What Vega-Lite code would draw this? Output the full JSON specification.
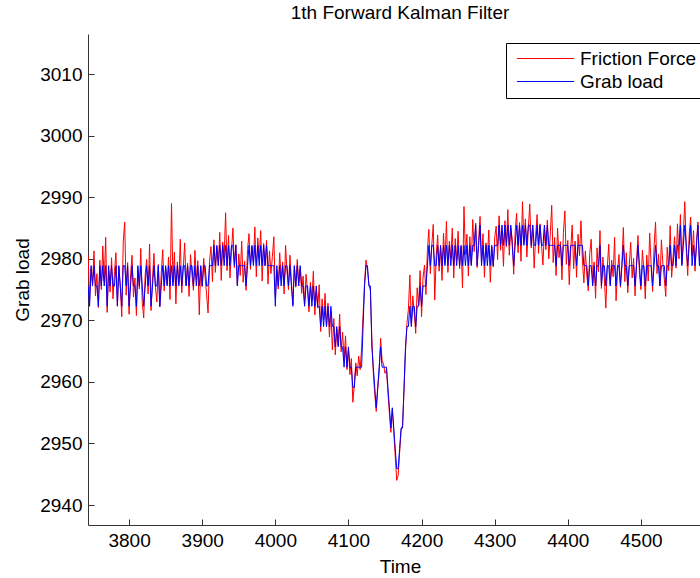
{
  "$schema": "https://vega.github.io/schema/vega-lite/v6.json",
  "autosize": {"type": "none"},
  "padding": {"left": 88, "top": 34, "right": 0, "bottom": 53},
  "width": 612,
  "height": 491,
  "background": "white",
  "config": {
    "view": {"stroke": null},
    "font": "Liberation Sans",
    "axis": {"grid": false, "domainColor": "#333", "tickColor": "#333", "labelColor": "#000", "titleColor": "#000", "labelFont": "Liberation Sans", "titleFont": "Liberation Sans", "labelFontSize": 19, "titleFontSize": 19, "titleFontWeight": "normal", "tickSize": -6, "format": "d"}
  },
  "title": {"text": "1th Forward Kalman Filter", "font": "Liberation Sans", "fontSize": 19, "fontWeight": "normal", "color": "#000", "anchor": "middle", "offset": 11, "dx": 6},
  "data": {"values": [
{"t":3744,"f":2980.5,"g":2975.6},{"t":3746,"f":2973.2,"g":2972.3},{"t":3748,"f":2978.4,"g":2978.9},{"t":3750,"f":2976.1,"g":2975.6},{"t":3752,"f":2981.3,"g":2978.9},{"t":3754,"f":2974.0,"g":2975.6},{"t":3756,"f":2977.6,"g":2975.6},{"t":3758,"f":2972.1,"g":2972.3},{"t":3760,"f":2979.8,"g":2978.9},{"t":3762,"f":2975.0,"g":2975.6},
{"t":3764,"f":2982.1,"g":2978.9},{"t":3766,"f":2976.4,"g":2975.6},{"t":3768,"f":2983.5,"g":2978.9},{"t":3770,"f":2971.3,"g":2972.3},{"t":3772,"f":2978.0,"g":2978.9},{"t":3774,"f":2974.6,"g":2975.6},{"t":3776,"f":2980.2,"g":2978.9},{"t":3778,"f":2973.5,"g":2975.6},{"t":3780,"f":2977.9,"g":2975.6},{"t":3782,"f":2981.0,"g":2978.9},
{"t":3784,"f":2972.4,"g":2972.3},{"t":3786,"f":2978.7,"g":2978.9},{"t":3788,"f":2975.3,"g":2975.6},{"t":3790,"f":2970.6,"g":2972.3},{"t":3792,"f":2982.8,"g":2978.9},{"t":3794,"f":2986.0,"g":2978.9},{"t":3796,"f":2974.1,"g":2975.6},{"t":3798,"f":2979.4,"g":2978.9},{"t":3800,"f":2971.0,"g":2972.3},{"t":3802,"f":2977.2,"g":2975.6},
{"t":3804,"f":2980.6,"g":2978.9},{"t":3806,"f":2973.8,"g":2975.6},{"t":3808,"f":2976.9,"g":2975.6},{"t":3810,"f":2970.8,"g":2972.3},{"t":3812,"f":2978.3,"g":2978.9},{"t":3814,"f":2975.1,"g":2975.6},{"t":3816,"f":2981.7,"g":2978.9},{"t":3818,"f":2972.9,"g":2975.6},{"t":3820,"f":2970.4,"g":2972.3},{"t":3822,"f":2977.5,"g":2975.6},
{"t":3824,"f":2979.9,"g":2978.9},{"t":3826,"f":2974.3,"g":2975.6},{"t":3828,"f":2982.4,"g":2978.9},{"t":3830,"f":2971.6,"g":2972.3},{"t":3832,"f":2976.8,"g":2975.6},{"t":3834,"f":2980.9,"g":2978.9},{"t":3836,"f":2975.4,"g":2975.6},{"t":3838,"f":2973.0,"g":2975.6},{"t":3840,"f":2979.1,"g":2978.9},{"t":3842,"f":2972.2,"g":2972.3},
{"t":3844,"f":2977.7,"g":2975.6},{"t":3846,"f":2981.5,"g":2978.9},{"t":3848,"f":2974.8,"g":2975.6},{"t":3850,"f":2978.6,"g":2978.9},{"t":3852,"f":2975.9,"g":2975.6},{"t":3854,"f":2980.3,"g":2978.9},{"t":3856,"f":2973.4,"g":2975.6},{"t":3858,"f":2989.0,"g":2978.9},{"t":3860,"f":2976.2,"g":2975.6},{"t":3862,"f":2981.1,"g":2978.9},
{"t":3864,"f":2972.7,"g":2975.6},{"t":3866,"f":2979.5,"g":2978.9},{"t":3868,"f":2976.0,"g":2975.6},{"t":3870,"f":2983.2,"g":2978.9},{"t":3872,"f":2974.5,"g":2975.6},{"t":3874,"f":2978.2,"g":2978.9},{"t":3876,"f":2982.6,"g":2978.9},{"t":3878,"f":2975.7,"g":2975.6},{"t":3880,"f":2979.3,"g":2978.9},{"t":3882,"f":2973.9,"g":2975.6},
{"t":3884,"f":2980.7,"g":2978.9},{"t":3886,"f":2977.4,"g":2978.9},{"t":3888,"f":2974.9,"g":2975.6},{"t":3890,"f":2981.4,"g":2978.9},{"t":3892,"f":2976.6,"g":2975.6},{"t":3894,"f":2979.7,"g":2978.9},{"t":3896,"f":2970.9,"g":2975.6},{"t":3898,"f":2978.8,"g":2978.9},{"t":3900,"f":2975.5,"g":2975.6},{"t":3902,"f":2980.1,"g":2978.9},
{"t":3904,"f":2977.0,"g":2978.9},{"t":3906,"f":2974.2,"g":2975.6},{"t":3908,"f":2971.2,"g":2975.6},{"t":3910,"f":2979.6,"g":2978.9},{"t":3912,"f":2982.0,"g":2978.9},{"t":3914,"f":2976.3,"g":2978.9},
{"t":3916,"f":2983.1,"g":2982.2},{"t":3918,"f":2977.8,"g":2978.9},{"t":3920,"f":2981.9,"g":2982.2},{"t":3922,"f":2979.0,"g":2978.9},{"t":3924,"f":2984.3,"g":2982.2},{"t":3926,"f":2976.5,"g":2978.9},{"t":3928,"f":2982.7,"g":2982.2},{"t":3930,"f":2980.2,"g":2978.9},{"t":3932,"f":2987.5,"g":2982.2},{"t":3934,"f":2978.1,"g":2978.9},
{"t":3936,"f":2983.8,"g":2982.2},{"t":3938,"f":2976.9,"g":2978.9},{"t":3940,"f":2981.2,"g":2982.2},{"t":3942,"f":2985.0,"g":2982.2},{"t":3944,"f":2978.6,"g":2978.9},{"t":3946,"f":2982.3,"g":2982.2},{"t":3948,"f":2975.8,"g":2975.6},{"t":3950,"f":2980.8,"g":2978.9},{"t":3952,"f":2977.3,"g":2978.9},{"t":3954,"f":2982.9,"g":2978.9},
{"t":3956,"f":2976.2,"g":2978.9},{"t":3958,"f":2979.6,"g":2978.9},{"t":3960,"f":2974.9,"g":2975.6},{"t":3962,"f":2981.5,"g":2978.9},{"t":3964,"f":2984.1,"g":2982.2},{"t":3966,"f":2978.3,"g":2978.9},{"t":3968,"f":2982.0,"g":2982.2},{"t":3970,"f":2979.4,"g":2978.9},{"t":3972,"f":2985.2,"g":2982.2},{"t":3974,"f":2977.1,"g":2978.9},
{"t":3976,"f":2983.4,"g":2982.2},{"t":3978,"f":2980.0,"g":2978.9},{"t":3980,"f":2984.6,"g":2982.2},{"t":3982,"f":2976.4,"g":2978.9},{"t":3984,"f":2982.5,"g":2982.2},{"t":3986,"f":2978.9,"g":2978.9},{"t":3988,"f":2983.0,"g":2982.2},{"t":3990,"f":2975.9,"g":2978.9},{"t":3992,"f":2981.3,"g":2978.9},{"t":3994,"f":2977.6,"g":2978.9},
{"t":3996,"f":2980.4,"g":2978.9},{"t":3998,"f":2983.6,"g":2978.9},{"t":4000,"f":2973.8,"g":2972.3},{"t":4002,"f":2978.2,"g":2978.9},{"t":4004,"f":2975.1,"g":2975.6},{"t":4006,"f":2981.0,"g":2978.9},{"t":4008,"f":2976.7,"g":2975.6},{"t":4010,"f":2979.5,"g":2978.9},{"t":4012,"f":2974.3,"g":2975.6},{"t":4014,"f":2982.2,"g":2978.9},
{"t":4016,"f":2977.9,"g":2978.9},{"t":4018,"f":2975.0,"g":2975.6},{"t":4020,"f":2980.6,"g":2978.9},{"t":4022,"f":2976.3,"g":2975.6},{"t":4024,"f":2972.6,"g":2972.3},{"t":4026,"f":2978.8,"g":2978.9},{"t":4028,"f":2975.4,"g":2975.6},{"t":4030,"f":2979.9,"g":2978.9},{"t":4032,"f":2976.1,"g":2975.6},{"t":4034,"f":2978.5,"g":2978.9},
{"t":4036,"f":2974.4,"g":2975.6},{"t":4038,"f":2977.2,"g":2975.6},
{"t":4040,"f":2972.6,"g":2972.3},{"t":4042,"f":2977.5,"g":2975.6},{"t":4044,"f":2975.0,"g":2975.6},{"t":4046,"f":2971.4,"g":2972.3},{"t":4048,"f":2976.2,"g":2975.6},{"t":4050,"f":2973.3,"g":2972.3},{"t":4052,"f":2978.0,"g":2975.6},{"t":4054,"f":2970.9,"g":2972.3},{"t":4056,"f":2974.7,"g":2975.6},{"t":4058,"f":2972.0,"g":2972.3},
{"t":4060,"f":2975.8,"g":2972.3},{"t":4062,"f":2968.2,"g":2969.0},{"t":4064,"f":2973.5,"g":2972.3},{"t":4066,"f":2970.1,"g":2969.0},{"t":4068,"f":2974.4,"g":2972.3},{"t":4070,"f":2969.0,"g":2969.0},{"t":4072,"f":2972.8,"g":2972.3},{"t":4074,"f":2967.3,"g":2969.0},{"t":4076,"f":2971.5,"g":2972.3},{"t":4078,"f":2965.2,"g":2969.0},
{"t":4080,"f":2970.3,"g":2969.0},{"t":4082,"f":2964.4,"g":2965.7},{"t":4084,"f":2968.6,"g":2969.0},{"t":4086,"f":2966.0,"g":2965.7},{"t":4088,"f":2971.0,"g":2969.0},{"t":4090,"f":2964.9,"g":2965.7},{"t":4092,"f":2968.1,"g":2965.7},{"t":4094,"f":2963.7,"g":2962.4},{"t":4096,"f":2967.5,"g":2965.7},{"t":4098,"f":2962.0,"g":2962.4},
{"t":4100,"f":2965.3,"g":2965.7},{"t":4102,"f":2961.2,"g":2962.4},{"t":4104,"f":2963.8,"g":2962.4},
{"t":4106,"f":2956.7,"g":2959.1},{"t":4108,"f":2959.5,"g":2959.1},{"t":4110,"f":2963.1,"g":2962.4},{"t":4112,"f":2961.0,"g":2962.4},{"t":4114,"f":2964.2,"g":2962.4},{"t":4116,"f":2962.0,"g":2962.4},{"t":4118,"f":2965.5,"g":2962.4},{"t":4120,"f":2970.8,"g":2969.0},{"t":4122,"f":2976.0,"g":2975.6},{"t":4124,"f":2979.8,"g":2978.9},
{"t":4126,"f":2978.2,"g":2978.9},{"t":4128,"f":2975.9,"g":2975.6},{"t":4130,"f":2974.8,"g":2975.6},{"t":4132,"f":2967.0,"g":2965.7},{"t":4134,"f":2961.5,"g":2962.4},{"t":4136,"f":2958.0,"g":2959.1},{"t":4138,"f":2955.2,"g":2955.8},{"t":4140,"f":2958.8,"g":2959.1},{"t":4142,"f":2961.6,"g":2962.4},{"t":4144,"f":2967.1,"g":2965.7},
{"t":4146,"f":2963.5,"g":2962.4},{"t":4148,"f":2962.9,"g":2962.4},{"t":4150,"f":2961.4,"g":2962.4},{"t":4152,"f":2962.0,"g":2962.4},{"t":4154,"f":2958.3,"g":2959.1},{"t":4156,"f":2954.9,"g":2955.8},{"t":4158,"f":2951.8,"g":2952.5},{"t":4160,"f":2955.6,"g":2955.8},{"t":4162,"f":2951.9,"g":2952.5},{"t":4164,"f":2947.9,"g":2949.2},
{"t":4166,"f":2944.0,"g":2945.9},{"t":4168,"f":2944.8,"g":2945.9},{"t":4170,"f":2948.5,"g":2949.2},{"t":4172,"f":2952.1,"g":2952.5},{"t":4174,"f":2953.0,"g":2952.5},{"t":4176,"f":2958.6,"g":2959.1},{"t":4178,"f":2964.9,"g":2965.7},{"t":4180,"f":2969.5,"g":2969.0},
{"t":4182,"f":2971.8,"g":2969.0},{"t":4184,"f":2977.4,"g":2972.3},{"t":4186,"f":2969.6,"g":2969.0},{"t":4188,"f":2974.0,"g":2972.3},{"t":4190,"f":2971.2,"g":2972.3},{"t":4192,"f":2967.9,"g":2969.0},{"t":4194,"f":2975.3,"g":2972.3},{"t":4196,"f":2972.5,"g":2972.3},{"t":4198,"f":2978.1,"g":2975.6},{"t":4200,"f":2970.6,"g":2972.3},
{"t":4202,"f":2976.9,"g":2975.6},{"t":4204,"f":2979.0,"g":2975.6},{"t":4206,"f":2974.2,"g":2975.6},
{"t":4208,"f":2981.5,"g":2978.9},{"t":4210,"f":2984.8,"g":2982.2},{"t":4212,"f":2977.6,"g":2978.9},{"t":4214,"f":2982.3,"g":2982.2},{"t":4216,"f":2985.6,"g":2982.2},{"t":4218,"f":2973.3,"g":2978.9},{"t":4220,"f":2980.4,"g":2978.9},{"t":4222,"f":2983.9,"g":2982.2},{"t":4224,"f":2978.0,"g":2978.9},{"t":4226,"f":2981.7,"g":2982.2},
{"t":4228,"f":2976.5,"g":2978.9},{"t":4230,"f":2984.2,"g":2982.2},{"t":4232,"f":2979.3,"g":2978.9},{"t":4234,"f":2986.1,"g":2982.2},{"t":4236,"f":2977.8,"g":2978.9},{"t":4238,"f":2982.9,"g":2982.2},{"t":4240,"f":2980.1,"g":2978.9},{"t":4242,"f":2985.0,"g":2982.2},{"t":4244,"f":2976.9,"g":2978.9},{"t":4246,"f":2983.3,"g":2982.2},
{"t":4248,"f":2979.8,"g":2978.9},{"t":4250,"f":2984.5,"g":2982.2},{"t":4252,"f":2978.4,"g":2978.9},{"t":4254,"f":2982.0,"g":2982.2},{"t":4256,"f":2975.3,"g":2978.9},{"t":4258,"f":2988.5,"g":2982.2},{"t":4260,"f":2980.7,"g":2978.9},{"t":4262,"f":2984.0,"g":2982.2},{"t":4264,"f":2977.2,"g":2978.9},{"t":4266,"f":2983.6,"g":2982.2},
{"t":4268,"f":2979.1,"g":2978.9},{"t":4270,"f":2986.4,"g":2982.2},{"t":4272,"f":2981.2,"g":2982.2},{"t":4274,"f":2985.8,"g":2985.5},{"t":4276,"f":2978.6,"g":2978.9},{"t":4278,"f":2983.0,"g":2982.2},{"t":4280,"f":2986.9,"g":2985.5},{"t":4282,"f":2979.5,"g":2978.9},{"t":4284,"f":2984.1,"g":2982.2},{"t":4286,"f":2977.0,"g":2978.9},
{"t":4288,"f":2982.6,"g":2982.2},{"t":4290,"f":2980.2,"g":2978.9},{"t":4292,"f":2984.7,"g":2982.2},{"t":4294,"f":2976.2,"g":2978.9},{"t":4296,"f":2981.9,"g":2982.2},{"t":4298,"f":2978.7,"g":2978.9},{"t":4300,"f":2983.4,"g":2982.2},
{"t":4302,"f":2985.3,"g":2982.2},{"t":4304,"f":2979.9,"g":2982.2},{"t":4306,"f":2987.0,"g":2985.5},{"t":4308,"f":2981.4,"g":2982.2},{"t":4310,"f":2984.6,"g":2985.5},{"t":4312,"f":2978.8,"g":2982.2},{"t":4314,"f":2986.2,"g":2985.5},{"t":4316,"f":2982.0,"g":2982.2},{"t":4318,"f":2988.0,"g":2985.5},{"t":4320,"f":2980.6,"g":2982.2},
{"t":4322,"f":2985.1,"g":2985.5},{"t":4324,"f":2983.2,"g":2982.2},{"t":4326,"f":2977.5,"g":2978.9},{"t":4328,"f":2984.4,"g":2982.2},{"t":4330,"f":2987.4,"g":2985.5},{"t":4332,"f":2981.0,"g":2982.2},{"t":4334,"f":2985.9,"g":2985.5},{"t":4336,"f":2979.6,"g":2982.2},{"t":4338,"f":2989.3,"g":2985.5},{"t":4340,"f":2982.7,"g":2982.2},
{"t":4342,"f":2986.5,"g":2985.5},{"t":4344,"f":2980.3,"g":2982.2},{"t":4346,"f":2984.9,"g":2985.5},{"t":4348,"f":2988.9,"g":2985.5},{"t":4350,"f":2981.8,"g":2982.2},{"t":4352,"f":2985.4,"g":2985.5},{"t":4354,"f":2978.5,"g":2982.2},{"t":4356,"f":2983.7,"g":2982.2},{"t":4358,"f":2987.2,"g":2985.5},{"t":4360,"f":2980.9,"g":2982.2},
{"t":4362,"f":2985.7,"g":2985.5},{"t":4364,"f":2982.4,"g":2982.2},{"t":4366,"f":2979.0,"g":2982.2},{"t":4368,"f":2984.8,"g":2985.5},{"t":4370,"f":2981.5,"g":2982.2},{"t":4372,"f":2986.3,"g":2985.5},{"t":4374,"f":2980.0,"g":2982.2},{"t":4376,"f":2983.9,"g":2982.2},{"t":4378,"f":2988.7,"g":2982.2},{"t":4380,"f":2979.4,"g":2982.2},
{"t":4382,"f":2983.5,"g":2982.2},{"t":4384,"f":2977.3,"g":2978.9},{"t":4386,"f":2985.0,"g":2982.2},{"t":4388,"f":2980.2,"g":2982.2},{"t":4390,"f":2982.8,"g":2982.2},{"t":4392,"f":2976.6,"g":2978.9},{"t":4394,"f":2984.3,"g":2982.2},{"t":4396,"f":2987.8,"g":2982.2},{"t":4398,"f":2979.1,"g":2982.2},{"t":4400,"f":2983.0,"g":2982.2},
{"t":4402,"f":2975.8,"g":2978.9},{"t":4404,"f":2981.6,"g":2982.2},{"t":4406,"f":2985.5,"g":2982.2},{"t":4408,"f":2978.4,"g":2982.2},{"t":4410,"f":2982.9,"g":2982.2},{"t":4412,"f":2977.0,"g":2978.9},{"t":4414,"f":2984.0,"g":2982.2},{"t":4416,"f":2980.5,"g":2982.2},{"t":4418,"f":2986.2,"g":2982.2},{"t":4420,"f":2979.7,"g":2982.2},
{"t":4422,"f":2976.1,"g":2978.9},{"t":4424,"f":2981.3,"g":2978.9},
{"t":4426,"f":2977.4,"g":2978.9},{"t":4428,"f":2974.8,"g":2975.6},{"t":4430,"f":2980.9,"g":2978.9},{"t":4432,"f":2983.2,"g":2978.9},{"t":4434,"f":2976.0,"g":2975.6},{"t":4436,"f":2979.5,"g":2978.9},{"t":4438,"f":2973.6,"g":2975.6},{"t":4440,"f":2981.8,"g":2978.9},{"t":4442,"f":2977.9,"g":2978.9},{"t":4444,"f":2984.6,"g":2982.2},
{"t":4446,"f":2975.2,"g":2975.6},{"t":4448,"f":2980.3,"g":2978.9},{"t":4450,"f":2976.8,"g":2978.9},{"t":4452,"f":2972.0,"g":2975.6},{"t":4454,"f":2978.6,"g":2978.9},{"t":4456,"f":2982.4,"g":2978.9},{"t":4458,"f":2975.9,"g":2975.6},{"t":4460,"f":2979.8,"g":2978.9},{"t":4462,"f":2977.1,"g":2978.9},{"t":4464,"f":2983.5,"g":2978.9},
{"t":4466,"f":2973.2,"g":2975.6},{"t":4468,"f":2978.0,"g":2978.9},{"t":4470,"f":2980.7,"g":2978.9},{"t":4472,"f":2975.4,"g":2975.6},{"t":4474,"f":2979.2,"g":2978.9},{"t":4476,"f":2985.1,"g":2982.2},{"t":4478,"f":2976.3,"g":2978.9},{"t":4480,"f":2981.0,"g":2978.9},{"t":4482,"f":2974.5,"g":2975.6},{"t":4484,"f":2978.8,"g":2978.9},
{"t":4486,"f":2982.7,"g":2978.9},{"t":4488,"f":2976.9,"g":2978.9},{"t":4490,"f":2980.1,"g":2978.9},{"t":4492,"f":2974.0,"g":2975.6},{"t":4494,"f":2979.6,"g":2978.9},{"t":4496,"f":2983.8,"g":2982.2},{"t":4498,"f":2977.5,"g":2978.9},{"t":4500,"f":2975.0,"g":2975.6},{"t":4502,"f":2981.4,"g":2978.9},{"t":4504,"f":2978.2,"g":2978.9},
{"t":4506,"f":2973.5,"g":2975.6},{"t":4508,"f":2980.6,"g":2978.9},{"t":4510,"f":2976.4,"g":2978.9},{"t":4512,"f":2984.2,"g":2978.9},{"t":4514,"f":2978.9,"g":2978.9},{"t":4516,"f":2974.7,"g":2975.6},{"t":4518,"f":2982.0,"g":2978.9},{"t":4520,"f":2986.0,"g":2982.2},{"t":4522,"f":2977.6,"g":2978.9},{"t":4524,"f":2980.8,"g":2978.9},
{"t":4526,"f":2975.6,"g":2975.6},{"t":4528,"f":2983.1,"g":2978.9},{"t":4530,"f":2979.3,"g":2978.9},{"t":4532,"f":2976.7,"g":2978.9},{"t":4534,"f":2973.9,"g":2975.6},{"t":4536,"f":2981.9,"g":2978.9},{"t":4538,"f":2978.1,"g":2978.9},{"t":4540,"f":2985.4,"g":2982.2},{"t":4542,"f":2977.0,"g":2978.9},{"t":4544,"f":2980.4,"g":2978.9},
{"t":4546,"f":2983.6,"g":2982.2},
{"t":4548,"f":2978.5,"g":2978.9},{"t":4550,"f":2985.7,"g":2982.2},{"t":4552,"f":2980.0,"g":2982.2},{"t":4554,"f":2987.2,"g":2985.5},{"t":4556,"f":2979.2,"g":2978.9},{"t":4558,"f":2984.0,"g":2982.2},{"t":4560,"f":2989.3,"g":2985.5},{"t":4562,"f":2981.6,"g":2982.2},{"t":4564,"f":2977.3,"g":2978.9},{"t":4566,"f":2983.9,"g":2982.2},
{"t":4568,"f":2986.8,"g":2985.5},{"t":4570,"f":2980.5,"g":2978.9},{"t":4572,"f":2984.6,"g":2982.2},{"t":4574,"f":2978.0,"g":2978.9},{"t":4576,"f":2982.8,"g":2982.2},{"t":4578,"f":2986.0,"g":2985.5},{"t":4580,"f":2979.7,"g":2978.9},{"t":4582,"f":2983.3,"g":2982.2}
  ]},
  "transform": [{"fold": ["f", "g"], "as": ["series", "value"]}],
  "mark": {"type": "line", "strokeWidth": 1, "clip": true},
  "encoding": {
    "x": {"field": "t", "type": "quantitative", "title": "Time",
      "scale": {"domain": [3743.8, 4580.8], "nice": false, "zero": false},
      "axis": {"values": [3800, 3900, 4000, 4100, 4200, 4300, 4400, 4500], "format": "d", "labelPadding": 12, "titleX": 312, "titleY": 47, "titleBaseline": "alphabetic", "titleAnchor": "middle"}},
    "y": {"field": "value", "type": "quantitative", "title": "Grab load",
      "scale": {"domain": [2936.75, 3016.55], "nice": false, "zero": false},
      "axis": {"values": [2940, 2950, 2960, 2970, 2980, 2990, 3000, 3010], "format": "d", "labelPadding": 12, "titleX": -60, "titleY": 245.5, "titleAngle": -90, "titleBaseline": "alphabetic", "titleAnchor": "middle", "titleAlign": "center"}},
    "color": {"field": "series", "type": "nominal",
      "scale": {"domain": ["f", "g"], "range": ["#ff0000", "#0000ff"]},
      "legend": {"title": null, "orient": "none", "legendX": 418, "legendY": 9, "labelExpr": "datum.value == 'f' ? 'Friction Force' : 'Grab load'", "labelFontSize": 19, "labelFont": "Liberation Sans", "labelColor": "#000", "symbolType": "M-3.3,0H3.3", "symbolSize": 300, "symbolStrokeWidth": 1, "symbolOffset": 24, "labelOffset": 25, "padding": 6, "rowPadding": 3, "strokeColor": "#000", "fillColor": "#fff", "cornerRadius": 0}}
  }
}
